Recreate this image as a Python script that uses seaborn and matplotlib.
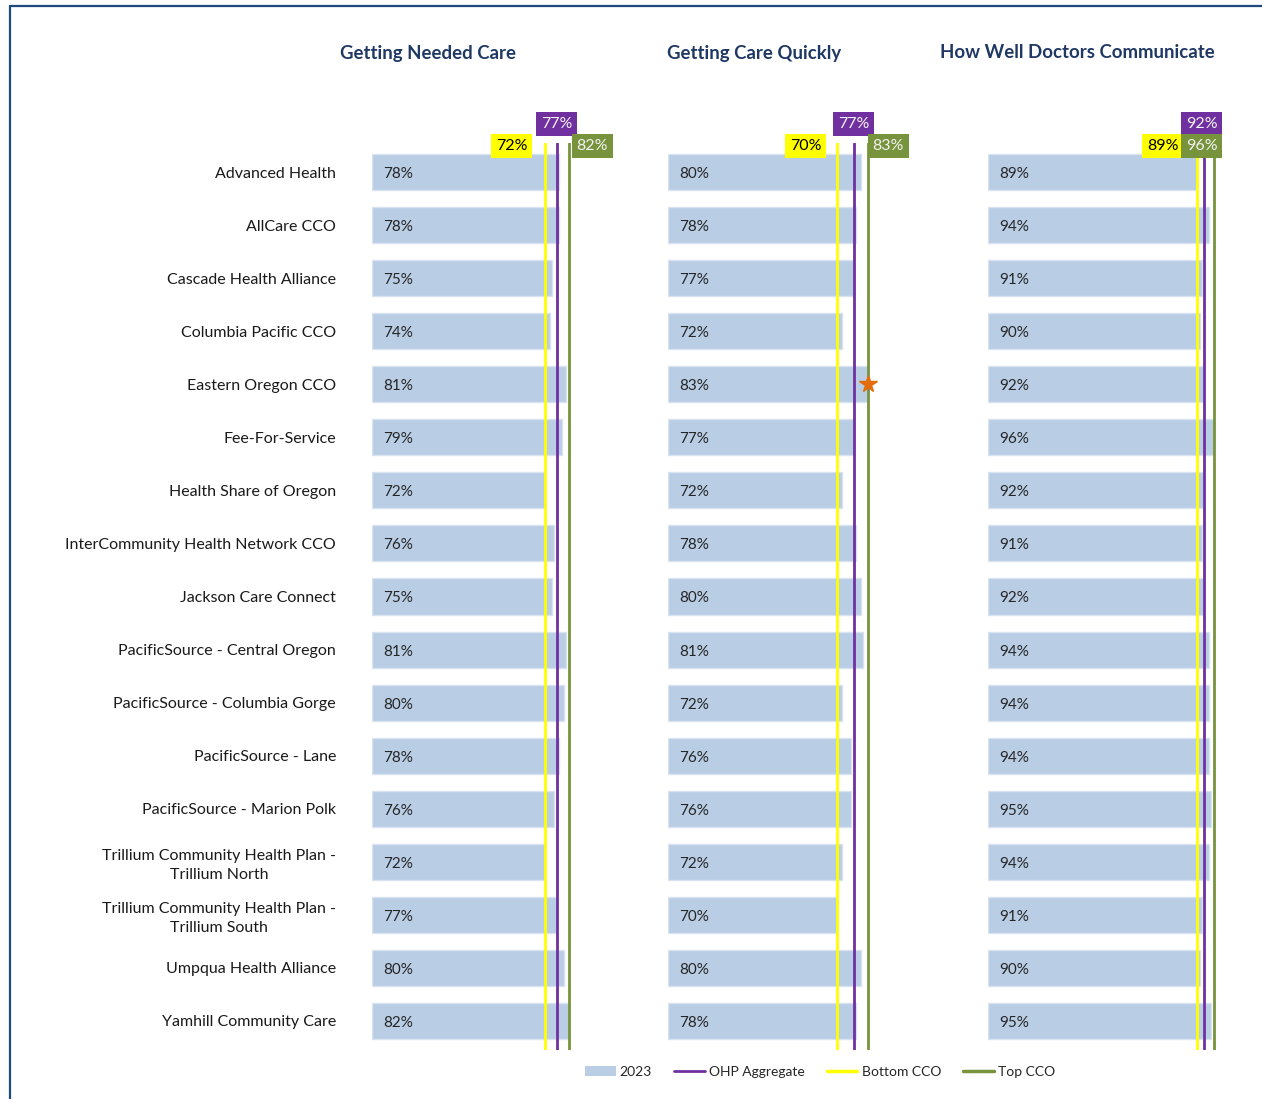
import pandas as pd
import numpy as np
import seaborn as sns
import matplotlib.pyplot as plt
from matplotlib.lines import Line2D
from matplotlib.patches import Patch
import matplotlib.transforms as mtransforms

# ---- data ----
ccos = ["Advanced Health", "AllCare CCO", "Cascade Health Alliance", "Columbia Pacific CCO",
        "Eastern Oregon CCO", "Fee-For-Service", "Health Share of Oregon",
        "InterCommunity Health Network CCO", "Jackson Care Connect",
        "PacificSource - Central Oregon", "PacificSource - Columbia Gorge",
        "PacificSource - Lane", "PacificSource - Marion Polk",
        "Trillium Community Health Plan -\nTrillium North",
        "Trillium Community Health Plan -\nTrillium South",
        "Umpqua Health Alliance", "Yamhill Community Care"]
measures = ["Getting Needed Care", "Getting Care Quickly", "How Well Doctors Communicate"]
needed_care = [78, 78, 75, 74, 81, 79, 72, 76, 75, 81, 80, 78, 76, 72, 77, 80, 82]
care_quickly = [80, 78, 77, 72, 83, 77, 72, 78, 80, 81, 72, 76, 76, 72, 70, 80, 78]
doctors_comm = [89, 94, 91, 90, 92, 96, 92, 91, 92, 94, 94, 94, 95, 94, 91, 90, 95]
ohp_aggregate = [77, 77, 92]
bottom_cco = [72, 70, 89]
top_cco = [82, 83, 96]
starred = {"Getting Care Quickly": ["Eastern Oregon CCO"]}

df = pd.DataFrame({"cco": ccos, measures[0]: needed_care,
                   measures[1]: care_quickly, measures[2]: doctors_comm})

BAR = "#B9CDE5"
PURPLE = "#7030A0"
YELLOW = "#FFFF00"
GREEN = "#77933C"
NAVY = "#1F3864"

W, H = 1262, 1099
sns.set_style("white")
plt.rcParams["font.family"] = ["Lato", "DejaVu Sans"]

fig = plt.figure(figsize=(W / 100, H / 100), dpi=100)

ax_left = [372, 668, 988]
ax_w = [240, 241, 235]
ax_top, ax_bot = 143, 1050
title_x = [428, 754, 1077]
# label box offsets in pixels (dx, dy, ha) for bottom / ohp / top
box_offsets = [
    [(-17.5, -3, "right"), (0, 19, "center"), (7.5, -3, "left")],
    [(-15.5, -3, "right"), (0, 19, "center"), (4.5, -3, "left")],
    [(-18.5, -3, "right"), (-2.5, 19, "center"), (-12, -3, "center")],
]

for i, m in enumerate(measures):
    ax = fig.add_axes([ax_left[i] / W, 1 - ax_bot / H, ax_w[i] / W, (ax_bot - ax_top) / H])
    sns.barplot(data=df, x=m, y="cco", orient="h", color=BAR, width=0.68,
                edgecolor="#D9E3F0", linewidth=1, saturation=1, ax=ax, zorder=1)
    ax.set_xlim(0, 100)
    ax.set_ylim(len(ccos) - 0.45, -0.55)
    ax.set_xlabel("")
    ax.set_ylabel("")
    ax.set_xticks([])
    for s in ax.spines.values():
        s.set_visible(False)
    if i == 0:
        ax.set_yticks(range(len(ccos)))
        ax.set_yticklabels(ccos, fontsize=11.5, color="#1a1a1a",
                           multialignment="center", linespacing=1.45)
        ax.tick_params(axis="y", length=0, pad=26)
    else:
        ax.set_yticks([])

    vals = df[m].tolist()
    for j, v in enumerate(vals):
        ax.annotate(f"{v}%", xy=(0, j), xytext=(11, -2), textcoords="offset pixels",
                    ha="left", va="center", fontsize=11, color="#262626", zorder=3)

    lines = [(bottom_cco[i], YELLOW, "#000000"), (ohp_aggregate[i], PURPLE, "#F2F2F2"),
             (top_cco[i], GREEN, "#F2F2F2")]
    for k, (val, col, tcol) in enumerate(lines):
        ax.axvline(val, color=col, lw=2, zorder=2)
        dx, dy, ha = box_offsets[i][k]
        trans = mtransforms.blended_transform_factory(ax.transData, ax.transAxes)
        trans = mtransforms.offset_copy(trans, fig=fig, x=dx, y=dy, units="dots")
        ax.text(val, 1.0, f"{val}%", transform=trans, ha=ha, va="center",
                fontsize=11.5, color=tcol, zorder=5 + k, clip_on=False,
                bbox=dict(boxstyle="square,pad=0.3", facecolor=col, edgecolor="none"))

    for name in starred.get(m, []):
        row = ccos.index(name)
        ax.plot(top_cco[i], row, marker="*", ms=13, color="#E46C0A",
                markeredgecolor="#E46C0A", zorder=6, clip_on=False)

    fig.text(title_x[i] / W, 1 - 53 / H, m, ha="center", va="center",
             fontsize=13.4, fontweight="bold", color=NAVY)

# frame
fig.add_artist(Line2D([10 / W, 10 / W], [0, 1 - 6 / H], color="#1F497D", lw=1.6))
fig.add_artist(Line2D([10 / W, 1], [1 - 6 / H, 1 - 6 / H], color="#1F497D", lw=1.6))

handles = [Patch(facecolor=BAR, edgecolor="none", label="2023"),
           Line2D([], [], color=PURPLE, lw=2, label="OHP Aggregate"),
           Line2D([], [], color=YELLOW, lw=2.5, label="Bottom CCO"),
           Line2D([], [], color=GREEN, lw=2.5, label="Top CCO")]
fig.legend(handles=handles, loc="center", bbox_to_anchor=(820 / W, 1 - 1072 / H),
           ncol=4, frameon=False, fontsize=10, handlelength=2.2, handleheight=0.7,
           handletextpad=0.3, columnspacing=1.6)

fig.savefig("out.png", dpi=100)
